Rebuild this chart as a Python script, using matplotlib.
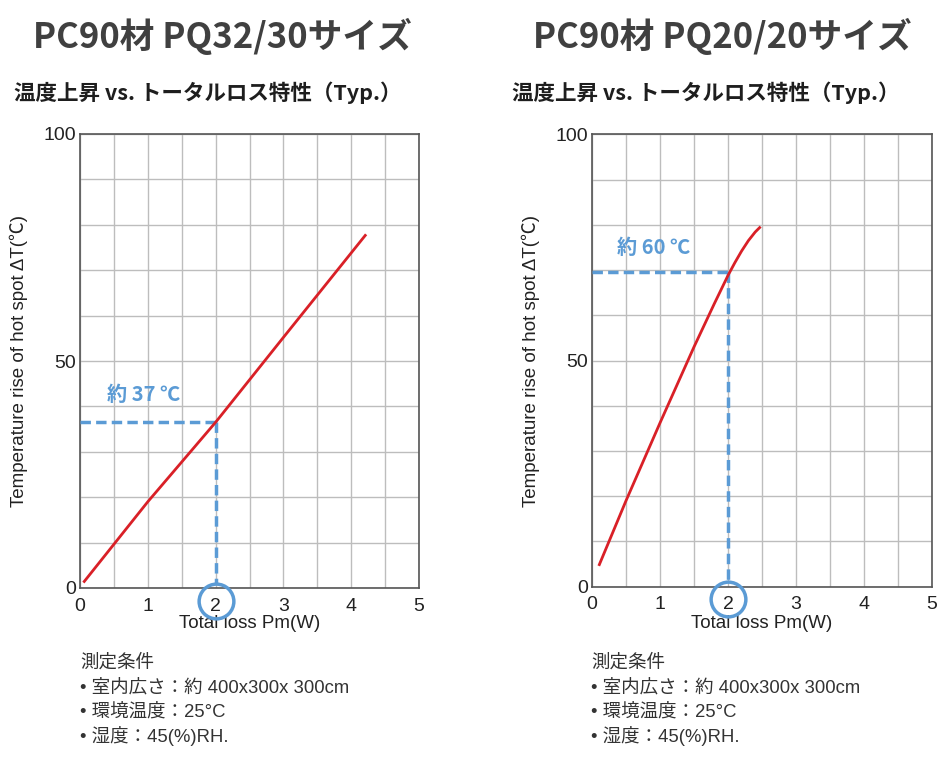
import numpy as np
import matplotlib
matplotlib.use("Agg")
import matplotlib.pyplot as plt
from matplotlib.transforms import blended_transform_factory

# ---- data ----
titles = ["PC90材 PQ32/30サイズ", "PC90材 PQ20/20サイズ"]
subtitle = "温度上昇 vs. トータルロス特性（Typ.）"
loss_32 = [0.05, 1.0, 2.0, 3.0, 4.22]
temp_32 = [1.2, 19.0, 36.5, 55.2, 77.9]
loss_20 = [0.10, 0.5, 1.0, 1.5, 1.8, 2.0, 2.1, 2.2, 2.3, 2.4, 2.48]
temp_20 = [4.6, 19.0, 36.2, 53.0, 62.6, 68.8, 71.6, 74.2, 76.5, 78.4, 79.6]
marker_loss = 2.0
marker_temp = [36.5, 69.6]
marker_labels = ["約 37 ℃", "約 60 ℃"]
label_pos = [(0.4, 42.7), (0.37, 75.0)]
x_ticks = [0, 1, 2, 3, 4, 5]
y_ticks = [0, 50, 100]
notes = ["測定条件", "• 室内広さ：約 400x300x 300cm", "• 環境温度：25°C", "• 湿度：45(%)RH."]

RED = "#d92027"
BLUE = "#5b9bd5"
W, H = 953, 758
fig = plt.figure(figsize=(W / 100, H / 100), dpi=100)
fig.patch.set_facecolor("white")

CJK = ["Noto Sans CJK JP", "DejaVu Sans"]
LAT = ["Liberation Sans", "Noto Sans CJK JP", "DejaVu Sans"]

axes_px = [(80, 419, 134, 588), (592, 932, 134.3, 586.7)]
title_cx = [222, 722]
sub_x = [14, 512]
note_x = [80, 591]
ylab_x = [28, 540]

series = [(loss_32, temp_32), (loss_20, temp_20)]

for i in range(2):
    l, r, t, b = axes_px[i]
    ax = fig.add_axes([l / W, 1 - b / H, (r - l) / W, (b - t) / H])
    ax.set_xlim(0, 5)
    ax.set_ylim(0, 100)
    ax.set_xticks(x_ticks)
    ax.set_yticks(y_ticks)
    ax.set_xticks(np.arange(0, 5.01, 0.5), minor=True)
    ax.set_yticks(np.arange(0, 100.1, 10), minor=True)
    ax.grid(True, which="both", color="#bdbdbd", lw=1.0)
    ax.tick_params(which="both", length=0)
    ax.tick_params(axis="x", pad=7)
    ax.tick_params(axis="y", pad=3)
    for lab in ax.get_xticklabels() + ax.get_yticklabels():
        lab.set_fontfamily(LAT)
        lab.set_fontsize(14)
        lab.set_color("#222222")
    for s in ax.spines.values():
        s.set_color("#555555")
        s.set_linewidth(1.2)
    ax.set_axisbelow(True)

    xs, ys = series[i]
    ax.plot(xs, ys, color=RED, lw=2.0, solid_capstyle="butt", solid_joinstyle="round", zorder=4)

    mt = marker_temp[i]
    ax.plot([0, marker_loss], [mt, mt], color=BLUE, lw=2.5, ls=(0, (3, 1.5)), zorder=3)
    ax.plot([marker_loss, marker_loss], [mt, 0.8], color=BLUE, lw=2.5, ls=(0, (3, 1.5)), zorder=3)
    lx, ly = label_pos[i]
    ax.text(lx, ly, marker_labels[i], color=BLUE, fontsize=14.5, fontweight="bold",
            family=["Noto Sans CJK JP", "DejaVu Sans"], va="center", ha="left", zorder=5)

    trans = blended_transform_factory(ax.transData, ax.transAxes)
    ax.plot([marker_loss], [-0.028], "o", ms=25, mfc="none", mec=BLUE, mew=2.5,
            transform=trans, clip_on=False, zorder=6)

    ax.set_xlabel("Total loss Pm(W)", family=LAT, fontsize=13.5, color="#222222", labelpad=1)
    ax.set_ylabel("Temperature rise of hot spot ΔT(℃)", family=LAT, fontsize=13.5,
                  color="#222222")
    ax.yaxis.set_label_coords((ylab_x[i] - l) / (r - l), 0.5)
    ax.xaxis.set_label_coords(0.5, -(623 - b) / (b - t))
    ax.xaxis.label.set_va("center")

    fig.text(title_cx[i] / W, 1 - 36 / H, titles[i], family=CJK, fontsize=25,
             fontweight="bold", color="#404040", ha="center", va="center")
    fig.text(sub_x[i] / W, 1 - 93 / H, subtitle, family=CJK, fontsize=15.5,
             fontweight="bold", color="#1e1e1e", ha="left", va="center")

    for k, n in enumerate(notes):
        fig.text(note_x[i] / W, 1 - (663 + 24.5 * k) / H, n, family=LAT, fontsize=13.3,
                 color="#333333", ha="left", va="center")

fig.savefig("out.png", dpi=100)
